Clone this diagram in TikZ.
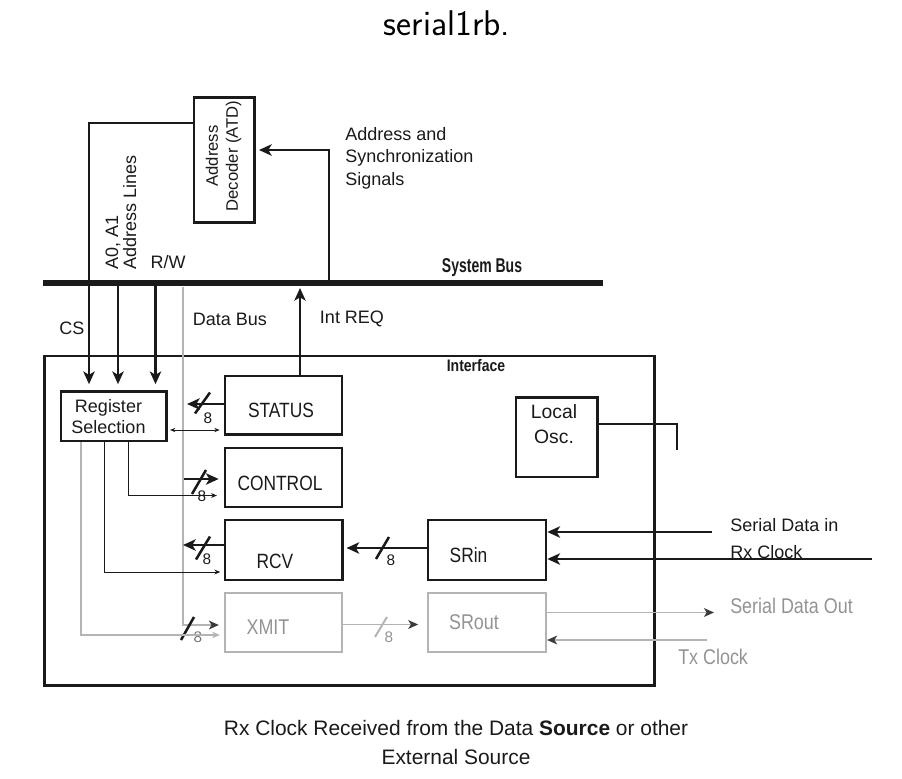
\documentclass[tikz,border=0pt]{standalone}
\usepackage{fontspec}
\setmainfont{Liberation Sans}
\newfontfamily\cond[FakeStretch=0.84]{Liberation Sans}
\newfontfamily\bcond[FakeStretch=0.7]{Liberation Sans}
\usetikzlibrary{fit,arrows.meta,calc}
\definecolor{ink}{HTML}{1A1A1A}
\definecolor{lgray}{HTML}{B4B4B4}
\definecolor{tgray}{HTML}{939393}
\definecolor{hgray}{HTML}{3A3A3A}
\begin{document}
\begin{tikzpicture}[x=0.75pt,y=-0.75pt,
  box/.style={draw=ink,line width=2pt,inner sep=0pt},
  gbox/.style={draw=lgray,line width=1.6pt,inner sep=0pt},
  txt/.style={inner sep=0pt,text=ink,font=\fontsize{13.5}{16}\selectfont},
  blabel/.style={inner sep=0pt,text=ink,font=\cond\fontsize{15.5}{18}\selectfont},
  glabel/.style={inner sep=0pt,text=tgray,font=\cond\fontsize{16}{18}\selectfont},
  eight/.style={inner sep=0pt,text=ink,font=\fontsize{11.5}{13}\selectfont},
  geight/.style={eight,text=tgray},
  wire/.style={ink,line width=1.9pt},
  tarr/.style={wire,-{Stealth[length=9.5pt,width=8.5pt,inset=2.5pt]}},
  narr/.style={ink,line width=0.7pt,-{Stealth[length=4.5pt,width=3.6pt]}},
  dbl/.style={ink,line width=0.7pt,{Stealth[length=4pt,width=3.2pt]}-{Stealth[length=4pt,width=3.2pt]}},
  garr/.style={lgray,line width=1.4pt,-{Stealth[length=7.5pt,width=6.5pt,inset=2pt,color=hgray]}},
  gthin/.style={lgray,line width=1pt,-{Stealth[length=6pt,width=5pt,inset=2pt]}},
  slashln/.style={ink,line width=1.9pt},
  gslash/.style={lgray,line width=1.5pt}
]
\useasboundingbox (0,0) rectangle (902,778);

% title
\node[inner sep=0pt,anchor=base,font=\sffamily\fontsize{26.8}{30}\selectfont] (title) at (447,36) {serial1rb.};

% system bus
\coordinate (busL) at (43,283);
\coordinate (busR) at (603,283);
\draw[ink,line width=4.4pt] (busL) -- (busR);
\node[inner sep=0pt,text=ink,font=\bcond\bfseries\fontsize{15}{18}\selectfont] (sysbus) at (482,268) {System Bus};

% boxes
\node[box,fit={(194,97.5) (254.3,222.5)}] (ad) {};
\node[box,fit={(44.5,356) (654.5,685.5)}] (iface) {};
\node[box,fit={(61,391.5) (166.7,441)}] (rs) {};
\node[box,fit={(225,376) (342,434.5)}] (status) {};
\node[box,fit={(225,448) (342,507)}] (control) {};
\node[box,fit={(225,520) (342.5,580)}] (rcv) {};
\node[gbox,fit={(225,593) (342,652)}] (xmit) {};
\node[box,fit={(428,520) (546,580)}] (srin) {};
\node[gbox,fit={(428,593) (546,652)}] (srout) {};
\node[box,fit={(516,397.5) (597.7,477)}] (osc) {};

% box texts
\node[txt,rotate=90,align=center,font=\fontsize{12.5}{15}\selectfont] (adt) at (223.5,156) {Address\\Decoder (ATD)};
\node[txt,align=center,font=\fontsize{13.5}{15.5}\selectfont] (rst) at (108.5,416.5) {Register\\Selection};
\node[blabel] (statust) at (281,410) {STATUS};
\node[blabel] (controlt) at (280,483) {CONTROL};
\node[blabel] (rcvt) at (275,561) {RCV};
\node[blabel] (srint) at (468.5,555) {SRin};
\node[glabel] (xmitt) at (268,627.5) {XMIT};
\node[glabel] (sroutt) at (474,622) {SRout};
\node[txt,align=center,font=\fontsize{14.5}{18.75}\selectfont] (osct) at (554,424) {Local\\Osc.};
\node[inner sep=0pt,text=ink,font=\cond\bfseries\fontsize{12.5}{15}\selectfont] (ifacet) at (476,366) {Interface};

% labels
\node[txt,rotate=90,anchor=west,align=left,font=\fontsize{13.5}{13.5}\selectfont] (addrl) at (121,270) {A0, A1\\Address Lines};
\node[txt] (rwt) at (168,262) {R/W};
\node[txt] (cst) at (72,328) {CS};
\node[txt] (dbt) at (230,319) {Data Bus};
\node[txt] (irt) at (352,319) {Int REQ};
\node[txt,anchor=north west,align=left,font=\fontsize{13.5}{16.9}\selectfont] (synct) at (345,127) {Address and\\Synchronization\\Signals};
\node[txt,anchor=west] (sdit) at (730,525) {Serial Data in};
\node[txt,anchor=west] (rxt) at (730,552) {Rx Clock};
\node[glabel,anchor=west] (sdot) at (730,606) {Serial Data Out};
\node[glabel,anchor=west] (txt) at (678,657) {Tx Clock};
\node[txt,align=center,font=\fontsize{15.7}{21.75}\selectfont] (bottom) at (456,743) {Rx Clock Received from the Data \textbf{Source} or other\\External Source};

% address lines into register selection
\coordinate (csC) at (89,123);
\draw[tarr,shorten >=4.5pt] (ad.west |- csC) -- (csC) -- (csC |- rs.north);
\coordinate (a0) at (118,283);
\draw[tarr,shorten >=4.5pt] (a0) -- (a0 |- rs.north);
\coordinate (rwc) at (155.5,283);
\draw[tarr,shorten >=4.5pt] (rwc) -- (rwc |- rs.north);

% sync signals to address decoder
\coordinate (syB) at (329,283);
\coordinate (syT) at (329,150);
\draw[tarr,shorten >=2.5pt] (syB) -- (syT) -- (ad.east |- syT);

% Int REQ
\coordinate (irT) at (300,288);
\draw[tarr] (status.north -| irT) -- (irT);

% data bus
\coordinate (dbT) at (183,287);
\coordinate (dbB) at (183,625);
\draw[garr,shorten >=3.75pt] (dbT) -- (dbB) -- (xmit.west |- dbB);
\draw[slashln] (187.5,628.5) ++(-6.5,11.5) -- ++(13,-23);
\node[eight,text=hgray!70] (e4) at (198,637) {8};

% status to data bus
\coordinate (stA) at (187,404);
\draw[tarr] (status.west |- stA) -- (stA);
\draw[slashln] (202.5,403) ++(-7.5,10.5) -- ++(15,-21);
\node[eight] (e1) at (208,418) {8};
\coordinate (dA) at (169,430);
\draw[dbl,shorten <=1.5pt,shorten >=3pt] (rs.east |- dA) -- (status.west |- dA);

% data bus to control
\coordinate (ctA) at (184,479);
\draw[tarr,shorten >=3.75pt] (ctA) -- (control.west |- ctA);
\draw[slashln] (199,482) ++(-7,12) -- ++(14,-24);
\node[eight] (e2) at (202,496) {8};
\coordinate (rc) at (128.5,495.5);
\draw[narr,shorten >=5pt] (rs.south -| rc) -- (rc) -- (control.west |- rc);

% rcv to data bus
\coordinate (rvA) at (183,545);
\draw[tarr] (rcv.west |- rvA) -- (rvA);
\draw[slashln] (203,548) ++(-7,11.5) -- ++(14,-23);
\node[eight] (e3) at (207,559) {8};
\coordinate (rr) at (104,572);
\draw[narr,shorten >=2.5pt] (rs.south -| rr) -- (rr) -- (rcv.west |- rr);

% register selection to xmit
\coordinate (rx) at (81,635);
\draw[gthin,shorten >=3pt] (rs.south -| rx) -- (rx) -- (xmit.west |- rx);

% srin to rcv
\coordinate (siY) at (0,548);
\draw[tarr,shorten >=2pt] (srin.west |- siY) -- (rcv.east |- siY);
\draw[slashln] (382.5,548) ++(-6.5,11) -- ++(13,-22);
\node[eight] (e5) at (391,560) {8};

% serial inputs
\coordinate (sdi) at (712,532);
\draw[tarr] (sdi) -- (srin.east |- sdi);
\coordinate (rxc) at (872,559);
\draw[tarr] (rxc) -- (srin.east |- rxc);

% xmit to srout
\coordinate (xsY) at (0,624.5);
\draw[garr,shorten >=6.5pt] (xmit.east |- xsY) -- (srout.west |- xsY);
\draw[gslash] (381,627) ++(-6,10) -- ++(12,-20);
\node[geight] (e6) at (389,637) {8};

% serial outputs
\coordinate (sdo) at (714,612.5);
\draw[garr] (srout.east |- sdo) -- (sdo);
\coordinate (txc) at (707,640);
\draw[garr] (txc) -- (srout.east |- txc);

% local oscillator
\coordinate (oscR) at (677,424);
\coordinate (oscE) at (677,450);
\draw[wire] (osc.east |- oscR) -- (oscR) -- (oscE);
\end{tikzpicture}
\end{document}
